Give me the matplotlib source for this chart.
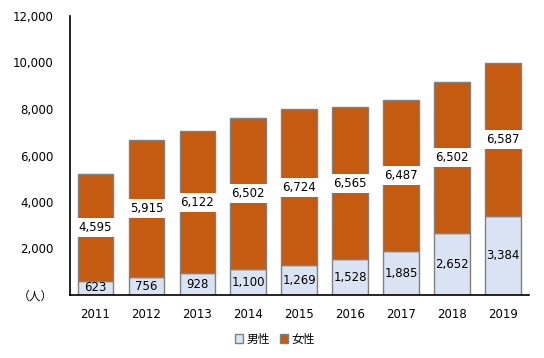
import matplotlib
matplotlib.use("Agg")
import matplotlib.pyplot as plt
import numpy as np

plt.rcParams['font.family'] = ['DejaVu Sans', 'Noto Sans CJK JP']

years = ['2011', '2012', '2013', '2014', '2015', '2016', '2017', '2018', '2019']
male = [623, 756, 928, 1100, 1269, 1528, 1885, 2652, 3384]
female = [4595, 5915, 6122, 6502, 6724, 6565, 6487, 6502, 6587]
yticks = [0, 2000, 4000, 6000, 8000, 10000, 12000]

male_color = '#DAE3F3'
female_color = '#C55A11'
edge = '#808080'

fig = plt.figure(figsize=(5.44, 3.58), dpi=100)
ax = fig.add_axes([70/544, 1 - 295/358, (528.5 - 70)/544, (295 - 16)/358])

x = np.arange(len(years))
ax.bar(x, male, width=0.7, color=male_color, edgecolor=edge, linewidth=1, label='男性')
ax.bar(x, female, width=0.7, bottom=male, color=female_color, edgecolor=edge, linewidth=1, label='女性')

for i in range(len(years)):
    ax.text(x[i], male[i] / 2, f'{male[i]:,}', ha='center', va='center', fontsize=8.5, color='black')
    ax.text(x[i], male[i] + female[i] / 2, f'{female[i]:,}', ha='center', va='center', fontsize=8.5,
            color='black', bbox=dict(boxstyle='square,pad=0.25', fc='white', ec='none'))

ax.set_xlim(-0.5, len(years) - 0.5)
ax.set_ylim(0, 12000)
ax.set_yticks(yticks)
ax.set_yticklabels(['（人）'] + [f'{v:,}' for v in yticks[1:]])
ax.set_xticks(x)
ax.set_xticklabels(years)
ax.tick_params(axis='both', length=0, labelsize=8.5, colors='black')
ax.tick_params(axis='y', pad=12)
ax.tick_params(axis='x', pad=9)
for s in ['top', 'right']:
    ax.spines[s].set_visible(False)
for s in ['left', 'bottom']:
    ax.spines[s].set_color('black')
    ax.spines[s].set_linewidth(1.2)

ax.legend(loc='center', bbox_to_anchor=(275/544, 1 - 339/358), bbox_transform=fig.transFigure,
          ncol=2, frameon=False, fontsize=8.5,
          handlelength=0.7, handleheight=0.7, handletextpad=0.3, columnspacing=0.8)

fig.savefig('out.png', dpi=100)
